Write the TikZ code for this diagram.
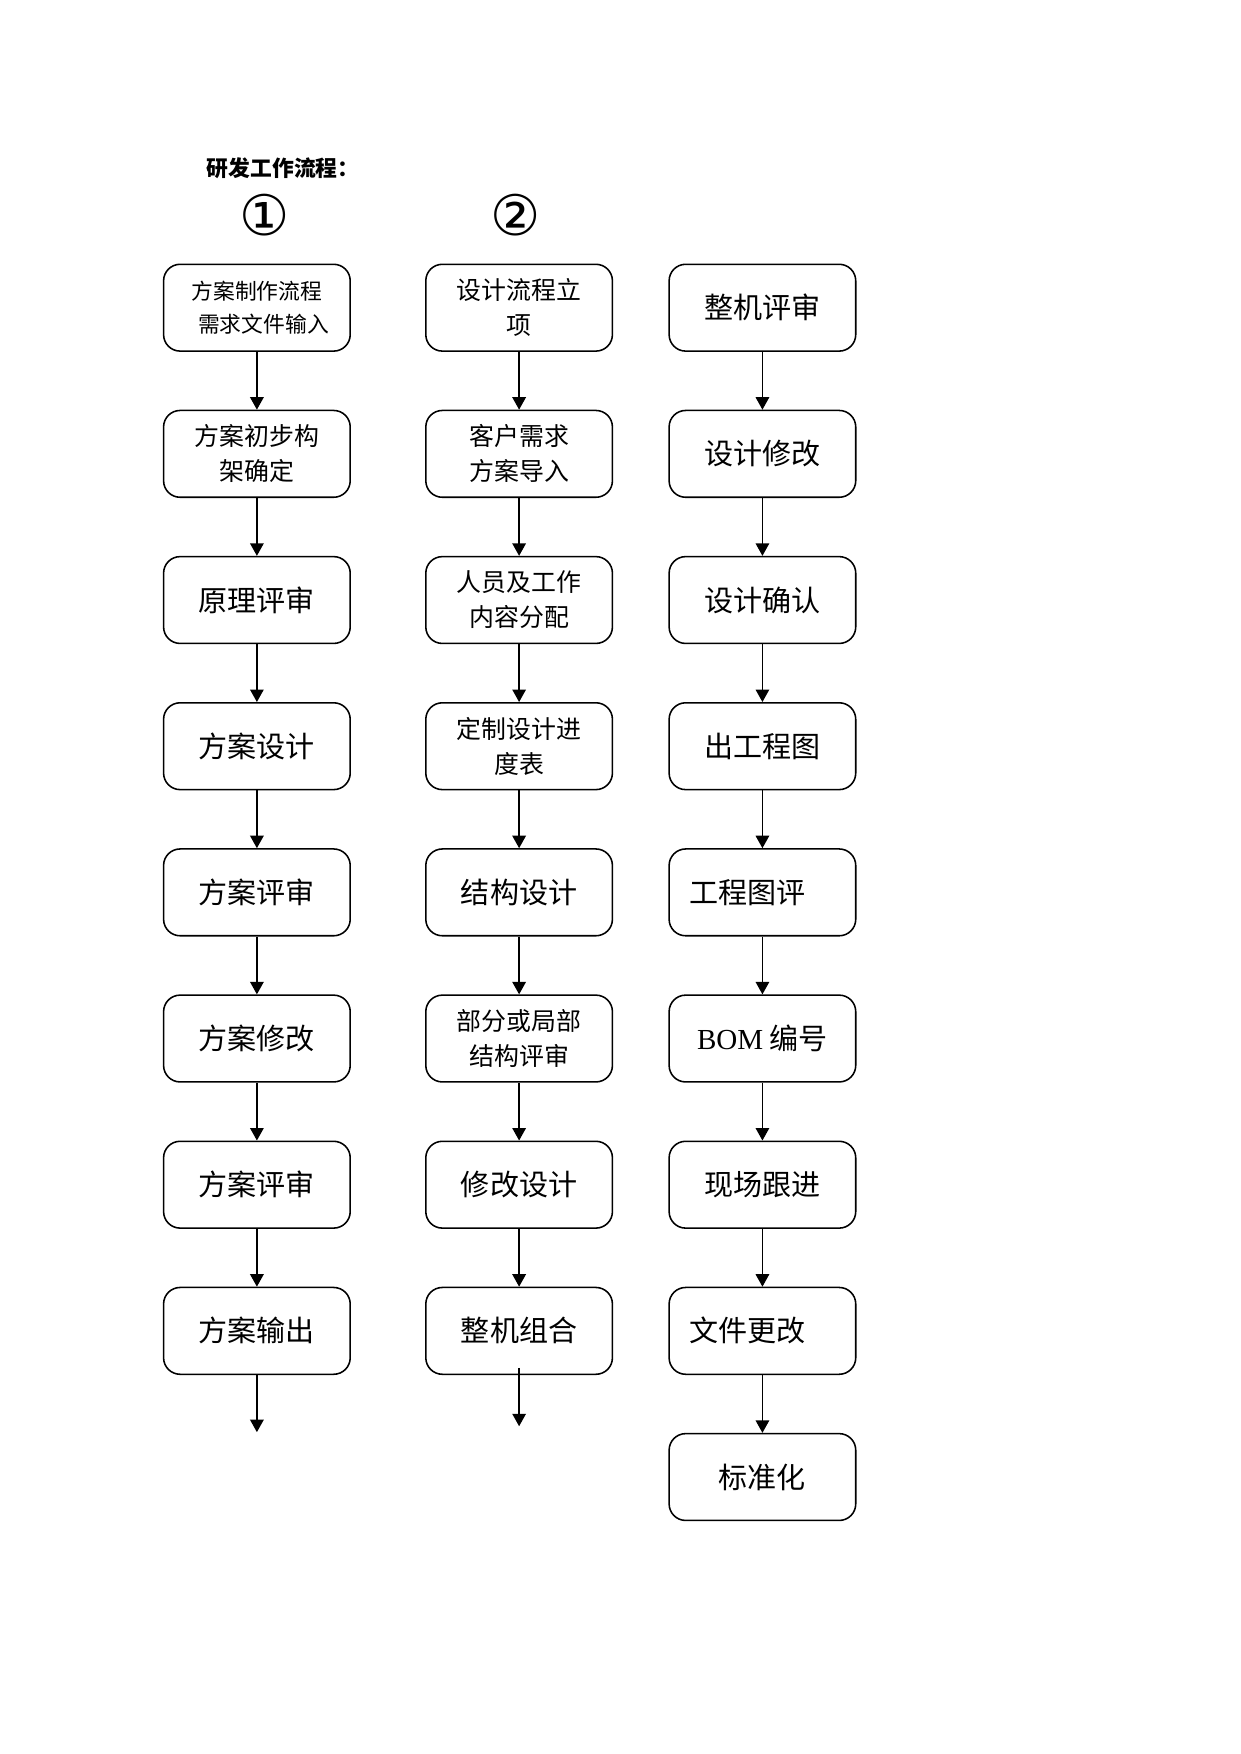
\documentclass[tikz,border=0pt]{standalone}
\usepackage{fontspec}
\setmainfont{Liberation Serif}
\newfontfamily\cjk{Noto Sans CJK SC}
\newfontfamily\sym{DejaVu Sans}
\usetikzlibrary{arrows.meta}

\begin{document}
\begin{tikzpicture}[every node/.style={font=\cjk},
	box/.style={draw, line width=0.75pt, rounded corners=0.28cm, minimum width=3.16cm, minimum height=1.47cm, align=center, inner sep=1pt},
	big/.style={font=\cjk\fontsize{14}{17}\selectfont},
	small/.style={font=\cjk\fontsize{12}{16.8}\selectfont},
	tiny/.style={font=\cjk\fontsize{10.5}{16}\selectfont},
	flow/.style={line width=0.7pt, -{Triangle[length=6pt,width=6.5pt]}}]
	\useasboundingbox (0,0) rectangle (21,-29.7);
	% heading
	\node[anchor=west, font=\cjk\bfseries\fontsize{10.5}{12}\selectfont] (title) at (3.38,-2.84) {研发工作流程：};
	\node[font=\sym\fontsize{27}{29}\selectfont] (n1) at (4.48,-3.64) {①};
	\node[font=\sym\fontsize{27}{29}\selectfont] (n2) at (8.73,-3.64) {②};
	% column 1
	\node[box, tiny]  (a1) at (4.35,-5.21)  {方案制作流程\\\hspace*{0.6em}需求文件输入};
	\node[box, small] (a2) at (4.35,-7.685) {方案初步构\\架确定};
	\node[box, big]   (a3) at (4.35,-10.16) {原理评审};
	\node[box, big]   (a4) at (4.35,-12.635) {方案设计};
	\node[box, big]   (a5) at (4.35,-15.11) {方案评审};
	\node[box, big]   (a6) at (4.35,-17.585) {方案修改};
	\node[box, big]   (a7) at (4.35,-20.06) {方案评审};
	\node[box, big]   (a8) at (4.35,-22.535) {方案输出};
	% column 2
	\node[box, small] (b1) at (8.79,-5.21)  {设计流程立\\项};
	\node[box, small] (b2) at (8.79,-7.685) {客户需求\\方案导入};
	\node[box, small] (b3) at (8.79,-10.16) {人员及工作\\内容分配};
	\node[box, small] (b4) at (8.79,-12.635) {定制设计进\\度表};
	\node[box, big]   (b5) at (8.79,-15.11) {结构设计};
	\node[box, small] (b6) at (8.79,-17.585) {部分或局部\\结构评审};
	\node[box, big]   (b7) at (8.79,-20.06) {修改设计};
	\node[box, big]   (b8) at (8.79,-22.535) {整机组合};
	% column 3
	\node[box, big] (c1) at (12.91,-5.21)  {整机评审};
	\node[box, big] (c2) at (12.91,-7.685) {设计修改};
	\node[box, big] (c3) at (12.91,-10.16) {设计确认};
	\node[box, big] (c4) at (12.91,-12.635) {出工程图};
	\node[box, big] (c5) at (12.91,-15.11) {工程图评\hspace*{1em}};
	\node[box, big] (c6) at (12.91,-17.585) {{\rmfamily BOM} 编号};
	\node[box, big] (c7) at (12.91,-20.06) {现场跟进};
	\node[box, big] (c8) at (12.91,-22.535) {文件更改\hspace*{1em}};
	\node[box, big] (c9) at (12.91,-25.01) {标准化};
	% connectors
	\foreach \c in {a,b}
		\foreach \i/\j in {1/2,2/3,3/4,4/5,5/6,6/7,7/8}
			\draw[flow] (\c\i) -- (\c\j);
	\foreach \i/\j in {1/2,2/3,3/4,4/5,5/6,6/7,7/8,8/9}
		\draw[flow] (c\i) -- (c\j);
	\coordinate (aend) at (4.35,-24.25);
	\coordinate (bstart) at (8.79,-23.16);
	\coordinate (bend) at (8.79,-24.15);
	\draw[flow] (a8) -- (aend);
	\draw[flow] (bstart) -- (bend);
\end{tikzpicture}
\end{document}
